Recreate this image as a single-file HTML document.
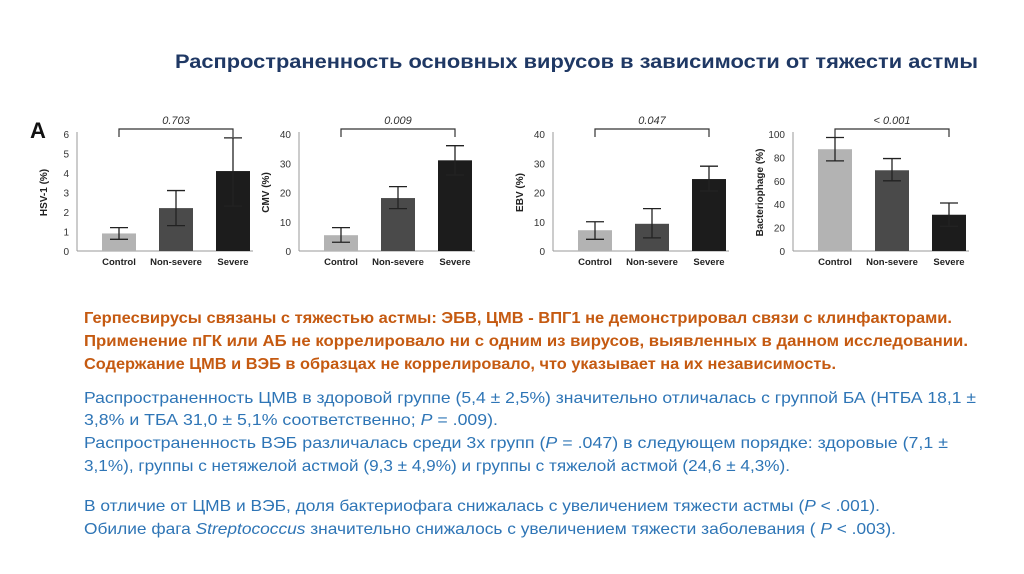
<!DOCTYPE html>
<html><head><meta charset="utf-8"><style>
body{margin:0;background:#fff;width:1024px;height:574px;overflow:hidden}
svg{display:block;font-family:"Liberation Sans",sans-serif}
</style></head><body>
<svg id="s" width="1024" height="574">
<text x="175" y="68" font-size="19" font-weight="bold" fill="#1f3864" textLength="803" lengthAdjust="spacingAndGlyphs">Распространенность основных вирусов в зависимости от тяжести астмы</text>
<text x="30" y="138" font-size="22" font-weight="bold" fill="#111">A</text>
<g id="charts"></g>
<g font-size="16" font-weight="bold" fill="#c55a11">
<text x="84" y="323" textLength="868" lengthAdjust="spacingAndGlyphs">Герпесвирусы связаны с тяжестью астмы: ЭБВ, ЦМВ - ВПГ1 не демонстрировал связи с клинфакторами.</text>
<text x="84" y="346" textLength="884" lengthAdjust="spacingAndGlyphs">Применение пГК или АБ не коррелировало ни с одним из вирусов, выявленных в данном исследовании.</text>
<text x="84" y="369" textLength="752" lengthAdjust="spacingAndGlyphs">Содержание ЦМВ и ВЭБ в образцах не коррелировало, что указывает на их независимость.</text>
</g>
<g font-size="16" fill="#2e75b6">
<text x="84" y="403" textLength="892" lengthAdjust="spacingAndGlyphs">Распространенность ЦМВ в здоровой группе (5,4 ± 2,5%) значительно отличалась с  группой БА (НТБА 18,1 ±</text>
<text x="84" y="425" textLength="414" lengthAdjust="spacingAndGlyphs">3,8% и ТБА 31,0 ± 5,1% соответственно; <tspan font-style="italic">P</tspan>  = .009).</text>
<text x="84" y="448" textLength="864" lengthAdjust="spacingAndGlyphs">Распространенность ВЭБ различалась среди 3х групп (<tspan font-style="italic">P</tspan>  = .047) в следующем порядке: здоровые (7,1 ±</text>
<text x="84" y="471" textLength="706" lengthAdjust="spacingAndGlyphs">3,1%), группы с нетяжелой астмой (9,3 ± 4,9%) и группы с тяжелой астмой (24,6 ± 4,3%).</text>
<text x="84" y="511" textLength="796" lengthAdjust="spacingAndGlyphs">В отличие от ЦМВ и ВЭБ, доля бактериофага снижалась с увеличением тяжести астмы (<tspan font-style="italic">P</tspan> &lt; .001).</text>
<text x="84" y="534" textLength="812" lengthAdjust="spacingAndGlyphs">Обилие фага <tspan font-style="italic">Streptococcus</tspan> значительно снижалось с увеличением тяжести заболевания ( <tspan font-style="italic">P</tspan> &lt; .003).</text>
</g>
</svg>
<script>
const categories=["Control","Non-severe","Severe"];
const hsvValues=[0.9,2.2,4.1], hsvLow=[0.6,1.3,2.3], hsvHigh=[1.2,3.1,5.8];
const cmvValues=[5.4,18.1,31.0], cmvLow=[3,14.5,26], cmvHigh=[8,22,36];
const ebvValues=[7.1,9.3,24.6], ebvLow=[4,4.5,20.5], ebvHigh=[10,14.5,29];
const phageValues=[87,69,31], phageLow=[77,60,21], phageHigh=[97,79,41];
const hsvTicks=[0,1,2,3,4,5,6], cmvTicks=[0,10,20,30,40], ebvTicks=[0,10,20,30,40], phageTicks=[0,20,40,60,80,100];
const pLabels=["0.703","0.009","0.047","< 0.001"];
const yTitles=["HSV-1 (%)","CMV (%)","EBV (%)","Bacteriophage (%)"];

const NS="http://www.w3.org/2000/svg";
const root=document.getElementById('charts');
function mk(t,a,p){const e=document.createElementNS(NS,t);for(const k in a)e.setAttribute(k,a[k]);(p||root).appendChild(e);return e;}
const cols=["#b3b3b3","#4a4a4a","#1c1c1c"];
const charts=[
 {ax:77,vals:hsvValues,lo:hsvLow,hi:hsvHigh,ticks:hsvTicks,max:6,key:"hsv",tx:-30},
 {ax:299,vals:cmvValues,lo:cmvLow,hi:cmvHigh,ticks:cmvTicks,max:40,key:"cmv",tx:-30},
 {ax:553,vals:ebvValues,lo:ebvLow,hi:ebvHigh,ticks:ebvTicks,max:40,key:"ebv",tx:-30},
 {ax:793,vals:phageValues,lo:phageLow,hi:phageHigh,ticks:phageTicks,max:100,key:"phage",tx:-30}];
const y0=251,yTop=134;
charts.forEach((c,ci)=>{
 const g=mk('g',{});
 
 
 const y=v=>y0-(v/c.max)*(y0-yTop);
 const x=i=>c.ax+25+i*57;
 const ya=mk('line',{x1:c.ax,y1:yTop-2,x2:c.ax,y2:y0,stroke:'#999','stroke-width':1},g);
 
 
 const xa=mk('line',{x1:c.ax,y1:y0,x2:c.ax+176,y2:y0,stroke:'#999','stroke-width':1},g);
 
 
 c.ticks.forEach(t=>{const e=mk('text',{x:c.ax-8,y:y(t)+4,'font-size':10,'text-anchor':'end',fill:'#333'},g);e.textContent=t;
  
  });
 const tt=mk('text',{transform:`translate(${c.ax+c.tx},${(yTop+y0)/2}) rotate(-90)`,'font-size':10,'font-weight':'bold','text-anchor':'middle',fill:'#222'},g);
 tt.textContent=yTitles[ci];
 
 
 c.vals.forEach((v,i)=>{
  const b=mk('rect',{x:x(i),y:y(v),width:34,height:y0-y(v),fill:cols[i]},g);
  
  
  const cx=x(i)+17;
  const eb=mk('path',{d:`M${cx},${y(c.hi[i])}V${y(c.lo[i])}M${cx-9},${y(c.hi[i])}H${cx+9}M${cx-9},${y(c.lo[i])}H${cx+9}`,stroke:'#222','stroke-width':1.3,fill:'none'},g);
  
  
  const l=mk('text',{x:cx,y:265,'font-size':9.5,'font-weight':'bold','text-anchor':'middle',fill:'#222'},g);
  l.textContent=categories[i];
  
  
 });
 const bx1=x(0)+17,bx2=x(2)+17;
 const br=mk('path',{d:`M${bx1},137V129H${bx2}V137`,stroke:'#333','stroke-width':1.2,fill:'none'},g);
 
 
 const pt=mk('text',{x:(bx1+bx2)/2,y:124,'font-size':11,'font-style':'italic','text-anchor':'middle',fill:'#333'},g);
 pt.textContent=pLabels[ci];
 
 
});
</script>
</body></html>
